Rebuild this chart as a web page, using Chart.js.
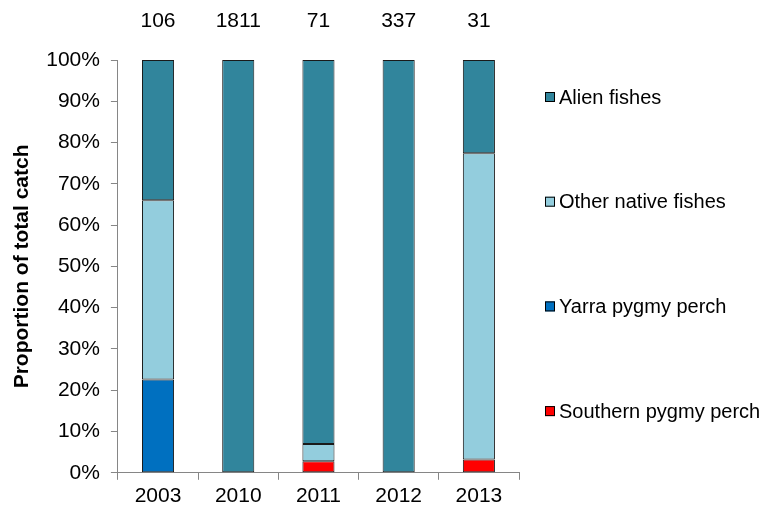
<!DOCTYPE html>
<html>
<head>
<meta charset="utf-8">
<script src="https://cdn.jsdelivr.net/npm/chart.js@4.4.0/dist/chart.umd.min.js"></script>
<style>
  body { margin: 0; background: #fff; }
  #wrap { width: 769px; height: 513px; }
</style>
</head>
<body>
<div id="wrap"><canvas id="catchChart"></canvas></div>
<script>
// years sampled and total fish caught per year
var years = ['2003', '2010', '2011', '2012', '2013'];
var totals = [106, 1811, 71, 337, 31];

// % of total catch, bottom to top of each stack
var southern = [null, null, 2.8, null, 3.2];
var yarra = [22.6, null, null, null, null];
var otherNative = [43.4, null, 4.2, null, 74.2];
var alien = [34.0, 100, 93.0, 100, 22.6];

var font = "'Liberation Sans', Arial, sans-serif";

// numbers above the bars
var totalsPlugin = {
    id: 'totals',
    afterDatasetsDraw: function (chart) {
        var ctx = chart.ctx;
        var x = chart.scales.x;
        ctx.save();
        ctx.font = '21px ' + font;
        ctx.fillStyle = '#000';
        ctx.textAlign = 'center';
        ctx.textBaseline = 'middle';
        totals.forEach(function (t, i) {
            ctx.fillText(String(t), x.getPixelForValue(i), 21);
        });
        ctx.restore();
    }
};

// legend spread down the right side, top item = top of stack
var sideLegend = {
    id: 'sideLegend',
    afterDraw: function (chart) {
        var ctx = chart.ctx;
        var area = chart.chartArea;
        var sets = chart.data.datasets.slice().reverse();
        ctx.save();
        ctx.font = '20px ' + font;
        ctx.textBaseline = 'middle';
        sets.forEach(function (d, i) {
            var y = area.top + 37 + i * 104.7;
            var x = area.right + 26;
            ctx.fillStyle = d.backgroundColor;
            ctx.fillRect(x, y - 5, 10, 10);
            ctx.strokeStyle = '#000';
            ctx.lineWidth = 1;
            ctx.strokeRect(x + 0.5, y - 4.5, 9, 9);
            ctx.fillStyle = '#000';
            ctx.fillText(d.label, x + 14, y + 1);
        });
        ctx.restore();
    }
};

function ds(label, data, color) {
    return {
        label: label,
        data: data,
        backgroundColor: color,
        borderColor: '#1a1a1a',
        borderWidth: 1,
        borderSkipped: false,
        barPercentage: 0.4,
        categoryPercentage: 1.0
    };
}

var ctx = document.getElementById('catchChart').getContext('2d');
new Chart(ctx, {
    type: 'bar',
    data: {
        labels: years,
        datasets: [
            ds('Southern pygmy perch', southern, '#FF0000'),
            ds('Yarra pygmy perch', yarra, '#0070C0'),
            ds('Other native fishes', otherNative, '#93CDDD'),
            ds('Alien fishes', alien, '#31859C')
        ]
    },
    options: {
        responsive: true,
        maintainAspectRatio: false,
        animation: false,
        layout: { padding: { top: 60, right: 250, bottom: 0, left: 10 } },
        plugins: {
            tooltip: { enabled: false },
            legend: { display: false }
        },
        scales: {
            x: {
                stacked: true,
                grid: {
                    offset: true,
                    drawOnChartArea: false,
                    tickLength: 7,
                    color: '#868686'
                },
                border: { color: '#868686' },
                ticks: { font: { family: font, size: 21 }, color: '#000', padding: 4 }
            },
            y: {
                stacked: true,
                min: 0,
                max: 100,
                grid: {
                    drawOnChartArea: false,
                    tickLength: 7,
                    color: '#868686'
                },
                border: { color: '#868686' },
                ticks: {
                    stepSize: 10,
                    font: { family: font, size: 21 },
                    color: '#000',
                    padding: 11,
                    callback: function (v) { return v + '%'; }
                },
                title: {
                    display: true,
                    text: 'Proportion of total catch',
                    font: { family: font, size: 21, weight: 'bold' },
                    color: '#000',
                    padding: 0
                }
            }
        }
    },
    plugins: [totalsPlugin, sideLegend]
});
</script>
</body>
</html>
